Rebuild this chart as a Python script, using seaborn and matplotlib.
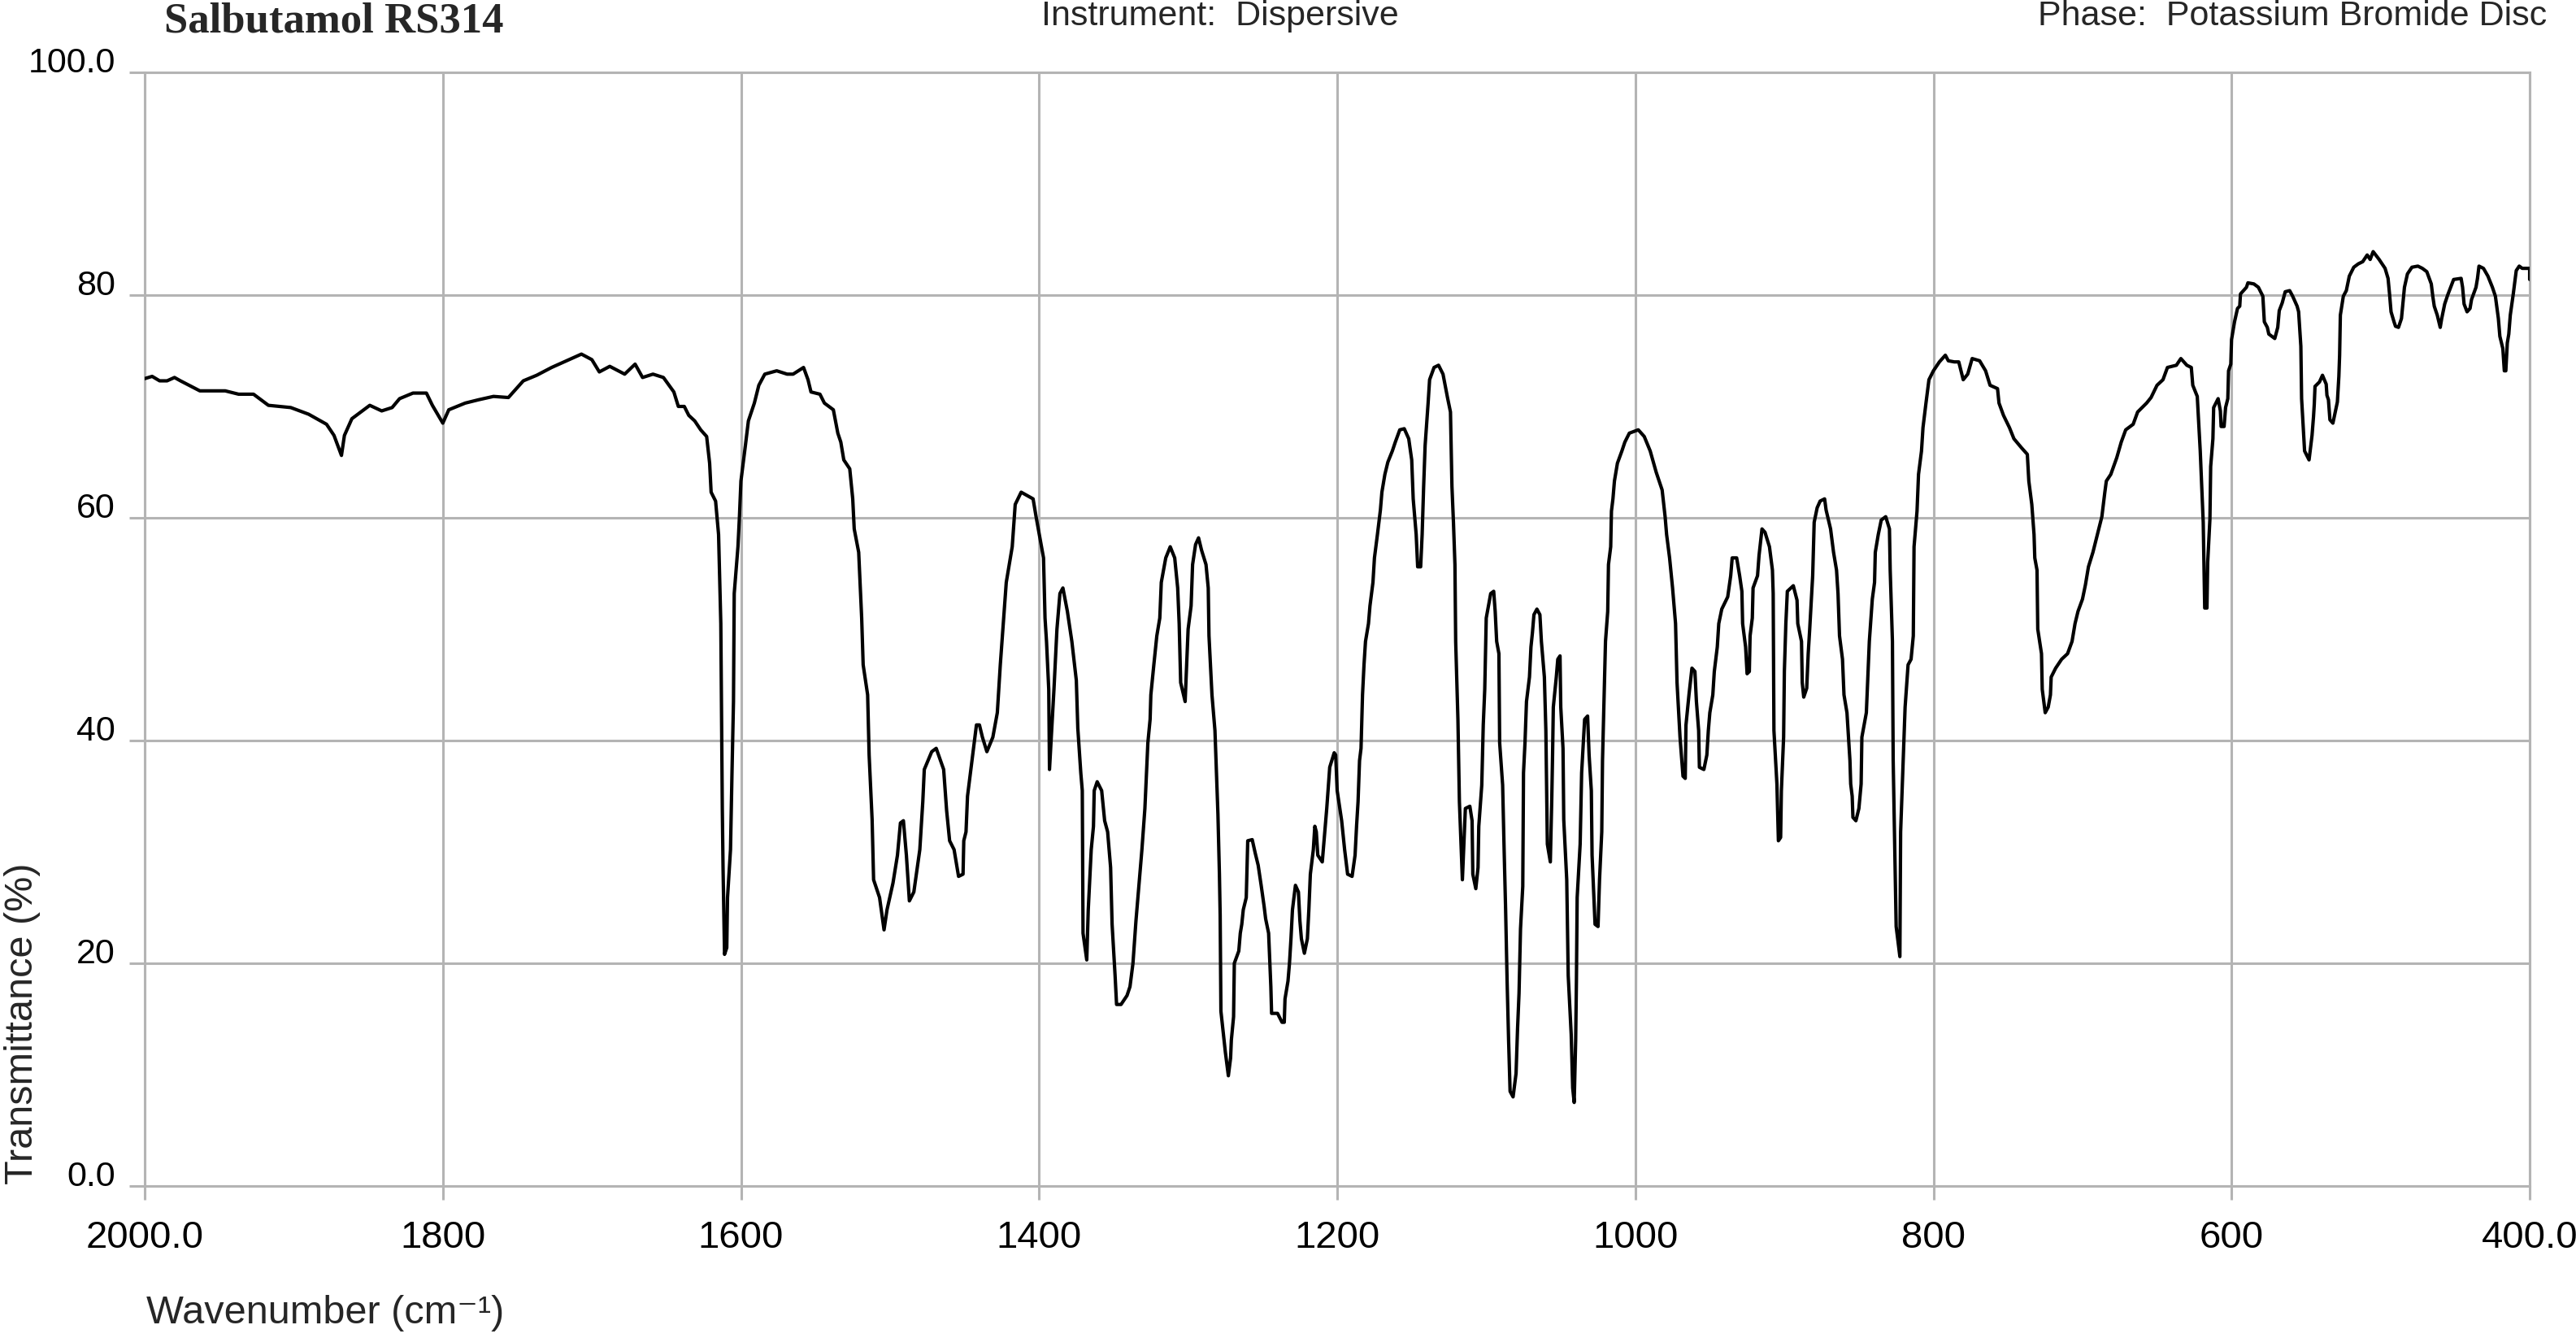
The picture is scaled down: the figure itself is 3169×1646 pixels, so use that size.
import matplotlib
matplotlib.use("Agg")
import matplotlib.pyplot as plt
from matplotlib import font_manager as fm
import pandas as pd
import seaborn as sns

# ---------------- data ----------------
wavenumber = [
    2000, 1995, 1990, 1985, 1980, 1976, 1963, 1946, 1937, 1927, 1917, 1902, 1890, 1878, 1873, 1868, 1866, 1861,
    1849, 1841, 1834, 1829, 1820, 1811, 1807, 1800, 1796, 1785, 1776, 1766, 1756, 1746, 1737, 1727,
    1717, 1707, 1700, 1695, 1688, 1678, 1671, 1666, 1659, 1652,
    1645, 1642, 1638, 1635, 1631, 1627, 1623, 1621, 1620, 1617, 1615, 1613.5, 1613, 1612.5, 1612, 1611,
    1609.5, 1609, 1607, 1606, 1605, 1604.5, 1602, 1601, 1600, 1597, 1595, 1591, 1588, 1584, 1576, 1569,
    1565, 1558, 1555, 1553, 1547, 1544, 1538, 1535, 1533, 1531, 1527, 1525, 1524, 1521, 1519, 1518, 1515,
    1514, 1512, 1511, 1507, 1504, 1502, 1498, 1495, 1493, 1491, 1489, 1487, 1484, 1480, 1478, 1477, 1472,
    1469, 1464, 1462, 1460, 1457, 1454, 1451, 1450.5, 1449, 1448, 1445, 1442, 1440, 1438, 1435, 1431, 1428,
    1426, 1424, 1422, 1418, 1416, 1412, 1404, 1402, 1397, 1396, 1395, 1393.5, 1393,
    1390, 1388, 1386, 1384, 1381, 1378, 1375, 1374, 1372, 1371, 1370.5, 1368, 1367, 1365, 1363.5, 1363,
    1361, 1358, 1356, 1354, 1352, 1351, 1349, 1348, 1345, 1341, 1339, 1337, 1335, 1333, 1331, 1329, 1327,
    1325.5, 1325, 1323, 1321, 1319, 1318, 1315, 1312, 1309, 1307, 1306, 1305.5, 1305, 1302, 1301, 1300,
    1298, 1297, 1295, 1293, 1291, 1288, 1286.5, 1286, 1285, 1284, 1282, 1281, 1280, 1279, 1278.5, 1278,
    1275, 1273, 1271.5, 1271, 1269.5, 1269, 1266, 1265, 1264, 1263, 1261, 1260.5, 1260, 1257, 1255, 1253,
    1251, 1249, 1248, 1246, 1245, 1244.5, 1244, 1240, 1237, 1235.5, 1235, 1233, 1232, 1231, 1230, 1228,
    1226, 1225, 1224, 1222, 1220, 1219, 1218, 1216, 1215, 1214, 1213, 1210, 1209, 1207, 1205, 1202, 1201,
    1200, 1197, 1195, 1193, 1190, 1188, 1187, 1186, 1185, 1184, 1183, 1182, 1181, 1179, 1178, 1176, 1175,
    1173, 1171, 1170, 1168, 1166, 1163, 1161, 1158, 1155, 1152, 1150, 1149, 1147, 1146, 1144, 1143, 1142,
    1141, 1139, 1138, 1135, 1132, 1129, 1126, 1124,
    1123, 1122, 1121, 1120.5, 1119, 1118, 1116, 1115, 1114, 1111, 1109.5, 1109, 1107, 1105.5, 1105, 1103,
    1102, 1101, 1100, 1097, 1095, 1094, 1093, 1091.5, 1091, 1089, 1088, 1087, 1086, 1085, 1084, 1082, 1080,
    1079, 1078, 1077, 1075.5, 1075, 1074, 1073, 1071, 1070, 1069, 1068, 1066, 1064, 1063, 1061, 1060,
    1059.5, 1059, 1057, 1056, 1055.5, 1055, 1053, 1052, 1050.5, 1050, 1048.5, 1048, 1046, 1045, 1043, 1042,
    1041, 1040, 1039.5, 1039, 1037, 1036, 1034, 1032, 1031, 1029.5, 1029, 1027, 1025, 1024, 1022.5, 1022,
    1021, 1020, 1018.5, 1018, 1016.5, 1016, 1015, 1014, 1012, 1009, 1007, 1004, 998, 994, 990, 986, 982,
    980, 979, 977, 975, 973, 972, 970, 968, 966.5, 966, 964, 962, 960, 959, 957.5, 957, 954, 952, 951, 950,
    948, 947, 945, 944, 942, 938, 936, 935, 932, 930, 928.5, 928, 926, 925, 923.5, 923, 921.5, 921, 918,
    917, 915, 913, 910, 908, 907.5, 907, 905, 904, 902.5, 902, 900.5, 900, 899, 898, 894, 891.5, 891,
    888.5, 888, 887, 885, 884, 883, 881, 880, 878, 876, 873, 872, 869, 867, 865, 864, 863, 861, 860, 858, 857,
    856, 855.5, 854.5, 854, 852, 850, 848.5, 848, 845, 844, 843, 841, 839.5, 839, 837, 835, 832, 829.5,
    829, 827.5, 827, 825, 822.5, 822, 820, 819, 817, 815, 813.5, 813, 811, 810, 808, 807, 805, 803, 800,
    796, 792, 790, 786, 783, 780, 777, 774, 769, 765, 762, 757, 756, 753, 749, 746, 741, 737, 736, 734,
    732.5, 732, 730.5, 730, 727.5, 727, 725, 723, 721.5, 721, 718, 714, 710, 707, 705, 703, 700, 698, 696,
    693, 690, 687, 685, 684, 681, 677, 674, 671, 666, 663, 657, 654, 650, 646, 643, 637, 634, 630, 627, 626,
    623, 621, 619, 618, 616.5, 616, 614.5, 614, 612.5, 612, 609, 607.5, 607, 605, 604, 602.5, 602, 600.5,
    600, 598, 596, 594.5, 594, 590, 589, 585, 582, 579, 578, 576, 575, 571, 569, 568, 566, 564, 561, 559,
    556, 555, 553.5, 553, 551, 548, 546, 545, 544.5, 544, 541, 539, 536.5, 536, 535, 534, 532, 529, 528,
    527.5, 527, 525, 523, 521, 518, 515, 512, 509, 507, 505, 501, 497, 495, 494, 493, 491, 490, 488, 486,
    484, 482, 479, 475, 472, 469, 466, 465, 464, 462, 460, 459, 457, 455, 453, 451, 446, 445, 444, 442,
    440, 439, 436, 435, 434, 431, 428, 425, 423, 421, 420, 418, 417, 416, 415, 414, 413, 411, 409, 407,
    405, 400, 400,
]

transmittance = [
    72.5, 72.7, 72.3, 72.3, 72.6, 72.3, 71.4, 71.4, 71.1, 71.1, 70.1, 69.9, 69.3, 68.4, 67.4, 65.6, 67.4, 68.9,
    70.1, 69.6, 69.9, 70.7, 71.2, 71.2, 70.1, 68.5, 69.7, 70.3, 70.6, 70.9, 70.8, 72.3, 72.8, 73.5,
    74.1, 74.7, 74.2, 73.1, 73.6, 72.9, 73.8, 72.6, 72.9, 72.6,
    71.3, 70.0, 70.0, 69.2, 68.7, 67.9, 67.3, 64.9, 62.3, 61.5, 58.5, 50.5, 42.5, 33.9, 28.6, 20.8,
    21.4, 25.9, 30.2, 37.1, 43.5, 53.2, 57.4, 60.1, 63.3, 66.5, 68.7, 70.3, 71.9, 72.9, 73.2, 72.9,
    72.9, 73.5, 72.4, 71.3, 71.1, 70.3, 69.7, 67.6, 66.8, 65.2, 64.4, 61.7, 59.0, 56.9, 51.0, 46.8, 44.1,
    38.7, 32.9, 27.5, 25.9, 23.0, 24.8, 27.2, 29.7, 32.6, 32.8, 29.7, 25.6, 26.4, 30.2, 34.5, 37.4, 39.0,
    39.3, 37.4, 33.7, 31.0, 30.2, 27.8, 28.0, 31.0, 31.8, 35.0, 38.2, 41.4, 41.4, 40.3, 39.0, 40.3, 42.5,
    46.8, 50.5, 54.2, 57.4, 61.2, 62.3, 61.7, 60.1, 56.4, 51.0, 48.9, 44.6, 37.4,
    44.6, 50.0, 53.2, 53.7, 51.6, 48.9, 45.4, 41.1, 37.1, 35.5, 22.7, 20.3, 24.8, 30.2, 32.3, 35.5,
    36.3, 35.5, 32.8, 31.8, 28.6, 23.5, 18.9, 16.3, 16.3, 17.1, 17.9, 20.0, 23.8, 27.0, 30.2, 33.9, 39.8,
    41.9, 44.1, 46.8, 49.4, 51.0, 54.2, 56.4, 57.4, 56.4, 53.7, 50.5, 47.8, 45.2, 43.5, 46.8, 50.0,
    52.1, 55.8, 57.6, 58.2, 57.1, 55.8, 53.7, 49.4, 46.8, 44.1, 40.9, 37.1, 33.4, 28.0, 24.3, 15.7,
    12.0, 9.9, 11.5, 13.1, 15.2, 20.0, 21.1, 22.7, 23.5, 24.8, 25.9, 28.6, 31.0, 31.1, 29.9, 28.8,
    27.0, 25.1, 24.0, 22.7, 19.5, 17.9, 15.5, 15.5, 14.7, 14.7, 16.8, 18.4, 20.0, 22.2, 24.8, 27.0,
    26.4, 23.8, 22.2, 20.9, 22.2, 24.8, 28.0, 30.2, 32.3, 31.8, 29.7, 29.1, 30.7, 33.9, 37.6, 38.9, 38.7,
    35.5, 32.8, 30.2, 28.0, 27.8, 29.7, 32.3, 34.5, 38.2, 39.3, 44.1, 46.8, 48.9, 50.5, 52.1, 54.2, 56.4,
    58.5, 60.7, 62.3, 63.9, 65.0, 66.0, 66.8, 67.9, 68.0, 67.1, 65.2, 61.7, 58.5, 55.6, 55.6, 58.5, 62.8,
    66.5, 70.3, 72.4, 73.5, 73.7, 72.9, 70.8, 69.5,
    62.8, 59.6, 55.8, 48.9, 41.9, 34.5, 27.5, 30.7, 33.9, 34.1, 32.8, 28.0, 26.7, 28.6, 32.3, 36.0,
    41.4, 44.6, 51.0, 53.2, 53.4, 51.6, 48.9, 47.8, 39.8, 36.0, 30.2, 24.8, 18.4, 13.1, 8.5, 8.0, 10.1,
    14.1, 17.3, 23.1, 26.9, 37.1, 39.8, 43.5, 45.7, 48.4, 49.7, 51.3, 51.8, 51.3, 48.9, 45.7, 40.9,
    35.5, 30.7, 29.1, 35.0, 38.7, 43.0, 45.7, 47.3, 47.6, 43.0, 39.3, 32.9, 27.5, 18.9, 13.6, 8.8,
    7.5, 13.1, 18.4, 25.9, 30.7, 37.1, 41.9, 42.2, 38.7, 35.5, 29.7, 23.5, 23.3, 27.5, 31.8, 38.2,
    43.5, 48.9, 51.6, 55.8, 57.4, 60.6, 61.7, 63.3, 64.9, 66.0, 66.8, 67.6, 67.9, 67.3, 66.0, 64.1, 62.5,
    60.1, 58.5, 56.4, 53.7, 50.5, 45.2, 40.3, 36.8, 36.6, 41.4, 44.1, 46.5, 46.2, 43.5, 40.9, 37.6, 37.4, 38.7, 40.9, 42.5,
    44.1, 46.2, 48.4, 50.5, 51.8, 52.9, 54.8, 56.4, 56.4, 54.8, 53.4, 50.5, 48.4, 46.0, 46.2, 49.4, 51.0, 53.7, 54.8,
    56.6, 59.0, 58.7, 57.4, 55.3, 53.2, 40.9, 36.1, 31.0, 31.3, 35.5, 40.3, 46.2, 50.5, 53.4, 53.9, 52.6, 50.5,
    48.9, 45.2, 43.9, 44.7, 47.8, 50.0, 54.8, 59.6, 60.9, 61.5, 61.7, 60.7, 59.0, 56.9, 55.3, 53.2, 49.4, 47.3, 44.1, 42.5, 40.3,
    38.2, 36.1, 35.0, 33.1, 32.8, 33.9, 36.1, 40.3, 42.5, 45.7, 48.9, 52.7, 54.2, 56.9, 58.5, 59.8, 60.1, 59.0,
    55.3, 48.9, 38.2, 23.3, 20.6, 31.8, 39.3, 43.0, 46.8, 47.3, 49.4, 57.4, 60.6, 63.9, 66.0, 68.1, 70.3, 72.4, 73.2,
    74.0, 74.6, 74.1, 74.0, 74.0, 72.4, 72.9, 74.3, 74.1, 73.2, 71.9, 71.6, 70.3, 69.2, 68.1, 67.1, 66.3, 65.7, 63.3, 61.2,
    58.5, 56.4, 55.3, 50.0, 47.8, 44.6, 42.5, 43.0, 44.1, 45.7, 46.5, 47.3, 47.8, 48.9, 50.5, 51.6, 52.7, 54.0, 55.6,
    56.9, 58.5, 60.1, 62.3, 63.3, 63.9, 65.4, 66.8, 67.9, 68.4, 69.5, 70.3, 70.8, 71.9, 72.4, 73.5, 73.7, 74.3, 73.7, 73.5, 71.9,
    70.9, 66.0, 59.6, 51.9, 51.9, 56.0, 59.9, 64.6, 67.1, 69.9, 70.7, 69.6, 68.2, 68.2, 69.9, 70.7, 73.2, 73.8,
    76.0, 77.6, 78.8, 79.0, 80.1, 80.7, 81.1, 81.0, 80.7, 79.9, 77.6, 77.1, 76.5, 76.1, 77.1, 78.6, 79.3, 80.3, 80.4, 79.9,
    79.0, 78.5, 75.4, 70.7, 66.0, 65.2, 67.4, 69.1, 70.2, 71.8, 72.2, 72.8, 72.0, 71.0, 70.6, 68.8, 68.5, 70.4, 72.7,
    74.6, 78.2, 79.9, 80.4, 81.7, 82.5, 82.8, 83.0, 83.6, 83.2, 83.9, 83.2, 82.4, 81.5, 80.1, 78.5, 77.6, 77.2, 77.1, 77.9,
    80.7, 81.9, 82.5, 82.6, 82.4, 82.1, 81.0, 79.9, 79.0, 78.2, 77.1, 77.9, 79.2, 80.0, 80.7, 81.4, 81.5, 80.7, 79.2, 78.5,
    78.8, 79.6, 80.7, 81.5, 82.6, 82.4, 81.7, 80.7, 79.9, 77.9, 76.3, 75.2, 73.2, 73.2, 75.7, 76.5, 78.2, 80.1, 82.2, 82.6,
    82.4, 82.4, 81.4,
]

x_ticks = [2000, 1800, 1600, 1400, 1200, 1000, 800, 600, 400]
x_tick_labels = ["2000.0", "1800", "1600", "1400", "1200", "1000", "800", "600", "400.0"]
y_ticks = [0, 20, 40, 60, 80, 100]
y_tick_labels = ["0.0", "20", "40", "60", "80", "100.0"]

title_text = "Salbutamol RS314"
instrument_text = "Instrument:  Dispersive"
phase_text = "Phase:  Potassium Bromide Disc"
x_label = "Wavenumber (cm\u207b\u00b9)"
y_label = "Transmittance (%)"

# ---------------- styling ----------------
sns.set_theme(style="white")
installed = {f.name for f in fm.fontManager.ttflist}
SANS = ["Liberation Sans", "DejaVu Sans"]
if "Liberation Sans Narrow" in installed:
    NARROW = ["Liberation Sans Narrow", "Liberation Sans", "DejaVu Sans"]
    xt_size, yt_size = 40, 36
else:
    NARROW = SANS
    xt_size, yt_size = 34, 31
plt.rcParams["font.family"] = SANS

GRID = "#b4b4b4"
W, H = 3169, 1646
fig = plt.figure(figsize=(W / 100, H / 100), dpi=100)
fig.patch.set_facecolor("white")
left, right, top, bottom = 178, 3112, 89, 1459
ax = fig.add_axes([left / W, 1 - bottom / H, (right - left) / W, (bottom - top) / H])

df = pd.DataFrame({"wavenumber": wavenumber, "transmittance": transmittance})
sns.lineplot(data=df, x="wavenumber", y="transmittance", sort=False, estimator=None,
             color="black", linewidth=3.0, ax=ax, zorder=3)

ax.set_xlim(2000, 400)
ax.set_ylim(0, 100)
ax.set_xticks(x_ticks)
ax.set_xticklabels(x_tick_labels, family=NARROW, fontsize=xt_size)
ax.set_yticks(y_ticks)
ax.set_yticklabels(y_tick_labels, family=NARROW, fontsize=yt_size)
for lab in ax.get_yticklabels():
    lab.set_verticalalignment("baseline")
ax.set_xlabel("")
ax.set_ylabel("")

ax.grid(True, color=GRID, linewidth=2.2)
for s in ax.spines.values():
    s.set_visible(True)
    s.set_color(GRID)
    s.set_linewidth(2.2)
ax.tick_params(axis="x", length=12, width=2.2, color=GRID, pad=18, labelcolor="black", bottom=True)
ax.tick_params(axis="y", length=14, width=2.2, color=GRID, pad=12, labelcolor="black", left=True)

fig.text(202 / W, 1 - 40 / H, title_text, family=["Liberation Serif", "DejaVu Serif"],
         fontweight="bold", fontsize=38, ha="left", va="baseline")
fig.text(1281 / W, 1 - 31 / H, instrument_text, fontsize=31, ha="left", va="baseline")
fig.text(3133 / W, 1 - 31 / H, phase_text, fontsize=31, ha="right", va="baseline")
fig.text(180 / W, 1 - 1628 / H, x_label, family=SANS, fontsize=35, ha="left", va="baseline")
fig.text(28 / W, 1 - 1457 / H, y_label, fontsize=35, rotation=90, ha="center", va="bottom")

fig.savefig("out.png", dpi=100, facecolor="white")
